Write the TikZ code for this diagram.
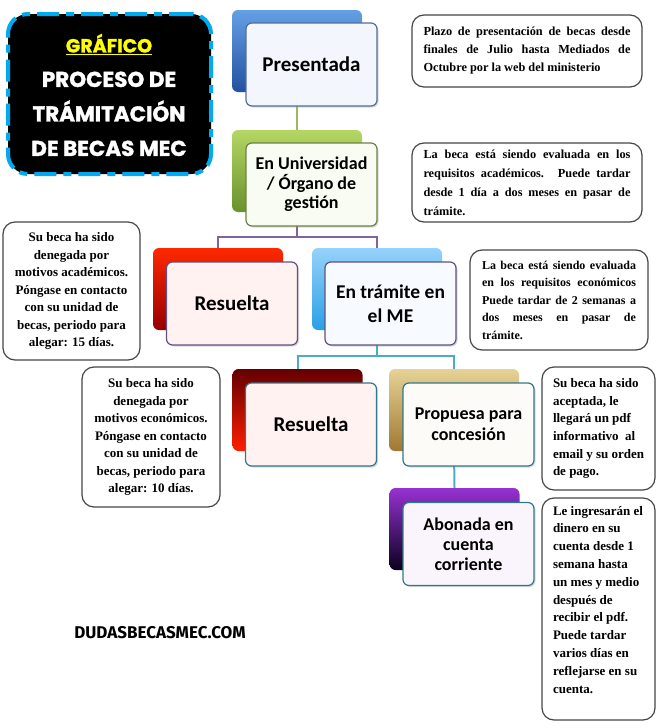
\documentclass[tikz,border=0pt]{standalone}
\usepackage{fontspec}
\setmainfont{Liberation Serif}
\newfontfamily\calfont{Carlito}
\newfontfamily\titlefont{Poppins}[FakeBold=1.5]
\newfontfamily\webfont{Fira Sans}
\usetikzlibrary{shadows}
\definecolor{blueT}{RGB}{100,160,230}
\definecolor{blueB}{RGB}{35,80,160}
\definecolor{greenT}{RGB}{180,215,100}
\definecolor{greenB}{RGB}{105,145,45}
\definecolor{redT}{RGB}{255,40,0}
\definecolor{redB}{RGB}{150,0,0}
\definecolor{lblueT}{RGB}{150,210,250}
\definecolor{lblueB}{RGB}{40,160,230}
\definecolor{dredT}{RGB}{100,0,0}
\definecolor{dredB}{RGB}{255,30,0}
\definecolor{goldT}{RGB}{230,210,150}
\definecolor{goldB}{RGB}{160,120,50}
\definecolor{purT}{RGB}{150,50,210}
\definecolor{purB}{RGB}{10,0,30}
\definecolor{edgeP}{RGB}{85,110,150}
\definecolor{edgeU}{RGB}{110,130,70}
\definecolor{edgeR}{RGB}{100,80,130}
\definecolor{edgeC}{RGB}{50,120,140}
\definecolor{lineG}{RGB}{155,187,89}
\definecolor{lineP}{RGB}{128,100,162}
\definecolor{lineC}{RGB}{75,172,198}
\definecolor{notegray}{RGB}{70,70,70}
\definecolor{titlecyan}{RGB}{0,170,240}
\definecolor{titleyellow}{RGB}{255,255,0}
\begin{document}
\begin{tikzpicture}[x=1pt,y=-1pt,
  backbox/.style={rounded corners=6pt, minimum width=130pt, minimum height=82pt, inner sep=0pt},
  frontbox/.style={rounded corners=6pt, minimum width=131pt, minimum height=83pt, inner sep=2pt,
     line width=1.2pt, align=center, text=black,
     drop shadow={opacity=0.3,shadow xshift=1.5pt,shadow yshift=-1.5pt}},
  fbig/.style={font=\calfont\bfseries\fontsize{21}{25}\selectfont},
  fmid/.style={font=\calfont\bfseries\fontsize{18}{19.5}\selectfont},
  conn/.style={line width=2pt},
  note/.style={draw=notegray, line width=1.2pt, rounded corners=12pt, fill=white, inner sep=0pt, text=black,
     font=\bfseries\fontsize{12.3}{18}\selectfont},
]
\useasboundingbox (0,0) rectangle (665,728);
\fill[white] (0,0) rectangle (665,728);

% title
\node (title) [fill=black, rounded corners=20pt, minimum width=203pt, minimum height=160pt,
  draw=titlecyan, line width=4pt, dash pattern=on 22pt off 7pt on 8pt off 7pt] at (109.5,94) {};
\node (titletext) [align=center, text=white, font=\titlefont\bfseries\fontsize{21.5}{34.5}\selectfont] at (109,95)
  {\textcolor{titleyellow}{\fontsize{19}{34.5}\selectfont\underline{GRÁFICO}}\\PROCESO DE\\TRÁMITACIÓN\\DE BECAS MEC};

% back boxes
\node (pB) [backbox, top color=blueT, bottom color=blueB] at (297,51) {};
\node (uB) [backbox, top color=greenT, bottom color=greenB] at (297,171) {};
\node (r1B) [backbox, top color=redT, bottom color=redB] at (218,289) {};
\node (tB) [backbox, top color=lblueT, bottom color=lblueB] at (377,289) {};
\node (r2B) [backbox, top color=dredT, bottom color=dredB] at (297.5,410) {};
\node (prB) [backbox, top color=goldT, bottom color=goldB] at (454,410) {};
\node (aB) [backbox, top color=purT, bottom color=purB] at (454.5,529) {};

% connectors
\coordinate (j1) at (297,237);
\coordinate (j2) at (377,356);
\draw[conn, lineG] (pB.south) -- (uB.north);
\draw[conn, lineP] (uB.south) -- (j1);
\draw[conn, lineP] (r1B.north) |- (j1) -| (tB.north);
\draw[conn, lineC] (tB.south) -- (j2);
\draw[conn, lineC] (r2B.north) |- (j2) -| (prB.north);
\draw[conn, lineC] (prB.south) -- (aB.north);

% front boxes
\node (pF) [frontbox, fbig, draw=edgeP, fill=blueT!8!white] at (311.5,64.5) {Presentada};
\node (uF) [frontbox, fmid, draw=edgeU, fill=greenT!8!white] at (311.5,184.5) {En Universidad\\/ Órgano de\\gestión};
\node (r1F) [frontbox, fbig, draw=edgeR, fill=redT!6!white] at (232,303.5) {Resuelta};
\node (tF) [frontbox, font=\calfont\bfseries\fontsize{19.5}{24}\selectfont, draw=edgeR, fill=lblueT!8!white] at (390.5,303.5) {En trámite en\\el ME};
\node (r2F) [frontbox, fbig, draw=edgeC, fill=dredB!6!white] at (311,424.5) {Resuelta};
\node (prF) [frontbox, font=\calfont\bfseries\fontsize{18}{21}\selectfont, draw=edgeC, fill=goldT!8!white] at (468.5,424.5) {Propuesa para\\concesión};
\node (aF) [frontbox, font=\calfont\bfseries\fontsize{18}{20}\selectfont, draw=edgeC, fill=purT!5!white] at (468.5,544) {Abonada en\\cuenta\\corriente};

% notes
\node (n1) [note, minimum width=230pt, minimum height=72pt] at (527,51)
  {\parbox{207pt}{\fontsize{12.3}{18}\selectfont Plazo de presentación de becas desde\linebreak finales de Julio hasta Mediados de\linebreak Octubre por la web del ministerio}};
\node (n2) [note, minimum width=230pt, minimum height=79pt] at (527,182.5)
  {\parbox{207pt}{\fontsize{12.3}{19}\selectfont La beca está siendo evaluada en los\linebreak requisitos académicos. Puede tardar\linebreak desde 1 día a dos meses en pasar de\linebreak trámite.}};
\node (n3) [note, minimum width=137pt, minimum height=138pt, align=center, font=\bfseries\fontsize{13}{17.5}\selectfont] at (71.5,291)
  {Su beca ha sido\\denegada por\\motivos académicos.\\Póngase en contacto\\con su unidad de\\becas, periodo para\\alegar: 15 días.};
\node (n4) [note, minimum width=178pt, minimum height=100pt] at (559,300)
  {\parbox{154pt}{\fontsize{12}{17.5}\selectfont La beca está siendo evaluada\linebreak en los requisitos económicos\linebreak Puede tardar de 2 semanas a\linebreak dos meses en pasar de\linebreak trámite.}};
\node (n5) [note, minimum width=138pt, minimum height=140pt, align=center, font=\bfseries\fontsize{13}{17.5}\selectfont] at (151,437)
  {Su beca ha sido\\denegada por\\motivos económicos.\\Póngase en contacto\\con su unidad de\\becas, periodo para\\alegar: 10 días.};
\node (n6) [note, minimum width=113pt, minimum height=123pt] at (598.5,428.5)
  {\parbox{91pt}{\raggedright\fontsize{13}{17.7}\selectfont Su beca ha sido\\aceptada, le\\llegará un pdf\\informativo~ al\\email y su orden\\de pago.}};
\node (n7) [note, minimum width=113pt, minimum height=222pt] at (598.5,609)
  {\parbox[c][206pt][t]{91pt}{\raggedright\fontsize{13}{17.8}\selectfont Le ingresarán el\\dinero en su\\cuenta desde 1\\semana hasta\\un mes y medio\\después de\\recibir el pdf.\\Puede tardar\\varios días en\\reflejarse en su\\cuenta.}};

% footer
\node (web) [font=\webfont\bfseries\fontsize{17}{20}\selectfont, text=black] at (160,633) {DUDASBECASMEC.COM};
\end{tikzpicture}
\end{document}
